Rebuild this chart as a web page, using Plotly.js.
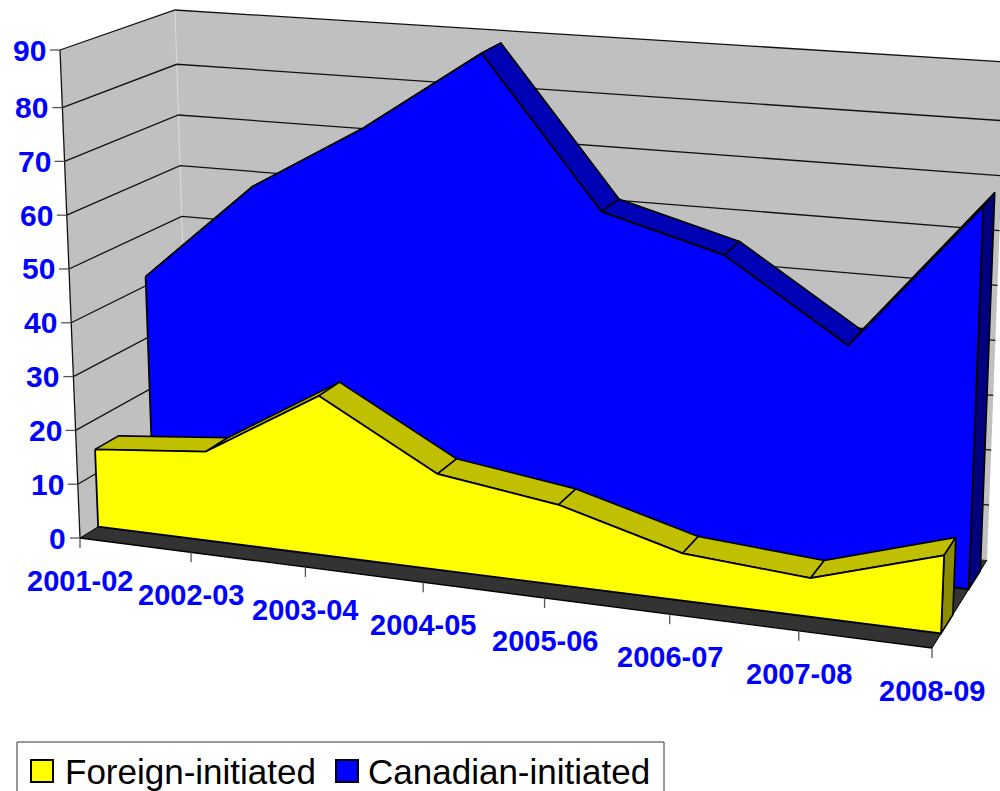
<!DOCTYPE html>
<html><head><meta charset="utf-8">
<script src="https://cdn.plot.ly/plotly-3.0.1.min.js"></script>
<style>html,body{margin:0;padding:0;background:#fff;overflow:hidden}#c{width:1000px;height:791px}</style>
</head><body><div id="c"></div>
<script>
const categories = ["2001-02","2002-03","2003-04","2004-05","2005-06","2006-07","2007-08","2008-09"];
const foreignInitiated = [14.5,16.5,29.2,17.4,14.4,8.4,6.8,13.6];
const canadianInitiated = [41.7,60.8,73.8,89.3,61.6,55.6,41.3,68.4];
const valueTicks = [0,10,20,30,40,50,60,70,80,90];
const valueMax = 90;
const wallTop = 90.7;

// oblique box seen in perspective: floor corners and the vertical vector at each
const FL=[80,538],FR=[932,648],BR=[987,560],BL=[190,466];
const HFL=[-20,-488],HFR=[20,-525],HBR=[19,-498],HBL=[-15,-460];
const foreignDepth=[0.155,0.36], canadianDepth=[0.65,0.87];

const sx=FL[0]-FR[0]+BR[0]-BL[0], sy=FL[1]-FR[1]+BR[1]-BL[1];
const dx1=FR[0]-BR[0], dx2=BL[0]-BR[0], dy1=FR[1]-BR[1], dy2=BL[1]-BR[1];
const den=dx1*dy2-dx2*dy1;
const g=(sx*dy2-dx2*sy)/den, h=(dx1*sy-sx*dy1)/den;
function project(u,w,v){
  const d=g*u+h*w+1;
  const fx=((FR[0]-FL[0]+g*FR[0])*u+(BL[0]-FL[0]+h*BL[0])*w+FL[0])/d;
  const fy=((FR[1]-FL[1]+g*FR[1])*u+(BL[1]-FL[1]+h*BL[1])*w+FL[1])/d+(1-u)*w*4;
  const mix=k=>(1-u)*(1-w)*HFL[k]+u*(1-w)*HFR[k]+u*w*HBR[k]+(1-u)*w*HBL[k];
  return [fx+mix(0)*v/wallTop, fy+mix(1)*v/wallTop];
}
const level=v=>v===valueMax?wallTop:v;
const traces=[];
function poly(pts,fill,line,width,name){
  const t={type:"scatter",mode:"lines",x:pts.map(p=>p[0]),y:pts.map(p=>p[1]),
    line:{color:line||"rgba(0,0,0,0)",width:width||0},hoverinfo:"skip",showlegend:false,name:name||""};
  if(fill){t.fill="toself";t.fillcolor=fill;}
  traces.push(t);
}
function seg(a,b,color,width){poly([a,b],null,color,width);}

// walls and floor
poly([project(0,0,0),project(0,1,0),project(0,1,wallTop),project(0,0,wallTop)],"#c0c0c0");
poly([project(0,1,0),project(1,1,0),project(1,1,wallTop),project(0,1,wallTop)],"#c0c0c0");
seg(project(0,1,0),project(0,1,wallTop),"#d9d9d9",1);
valueTicks.forEach(v=>{
  if(v>0) poly([project(0,0,level(v)),project(0,1,level(v)),project(1,1,level(v))],null,"#111",1.3);
});
seg(project(0,0,0),project(0,0,wallTop),"#111",1.3);
poly([project(0,0,0),project(1,0,0),project(1,1,0),project(0,1,0)],"#333333");
seg(project(0,0,0),project(1,0,0),"#000",1.3);
seg(project(0,0,0),project(0,1,0),"#000",1);
seg(project(1,0,0),project(1,1,0),"#000",1);
// axis ticks
valueTicks.forEach(v=>{const p=project(0,0,level(v));seg([p[0]-10,p[1]],p,"#555",1.3);});
categories.forEach((c,i)=>{const p=project(i/(categories.length-1),0,0);seg(p,[p[0],p[1]+10],"#555",1.3);});

function ribbon(vals,depth,topCol,sideCol,frontCol,name){
  const n=vals.length, [w0,w1]=depth, U=i=>i/(n-1);
  for(let i=0;i<n-1;i++)
    poly([project(U(i),w0,vals[i]),project(U(i+1),w0,vals[i+1]),project(U(i+1),w1,vals[i+1]),project(U(i),w1,vals[i]),project(U(i),w0,vals[i])],topCol,"#000",1.6);
  poly([project(1,w0,vals[n-1]),project(1,w1,vals[n-1]),project(1,w1,0),project(1,w0,0),project(1,w0,vals[n-1])],sideCol,"#000",1.6);
  const front=vals.map((v,i)=>project(U(i),w0,v));
  front.push(project(1,w0,0),project(0,w0,0),front[0]);
  poly(front,frontCol,"#000",1.8,name);
}
ribbon(canadianInitiated,canadianDepth,"#0000b4","#000080","#0000ff","Canadian-initiated");
ribbon(foreignInitiated,foreignDepth,"#c0c000","#8c8c00","#ffff00","Foreign-initiated");

const family="'Liberation Sans',Arial,sans-serif";
const annotations=[];
valueTicks.forEach(v=>{const p=project(0,0,level(v));
  annotations.push({x:p[0],y:p[1],xref:"x",yref:"y",text:"<b>"+v+"</b>",showarrow:false,xanchor:"right",yanchor:"middle",xshift:-12,font:{family,size:30,color:"#0000ff"}});});
categories.forEach((c,i)=>{const p=project(i/(categories.length-1),0,0);
  annotations.push({x:p[0],y:p[1],xref:"x",yref:"y",text:"<b>"+c+"</b>",showarrow:false,xanchor:"center",yanchor:"middle",yshift:-43,font:{family,size:29,color:"#0000ff"}});});
const legFont={family,size:35,color:"#000"};
annotations.push({x:63,y:771,xref:"x",yref:"y",text:"Foreign-initiated",showarrow:false,xanchor:"left",yanchor:"middle",font:legFont});
annotations.push({x:366,y:771,xref:"x",yref:"y",text:"Canadian-initiated",showarrow:false,xanchor:"left",yanchor:"middle",font:legFont});
const shapes=[
 {type:"rect",xref:"x",yref:"y",x0:17,x1:664,y0:742,y1:800,line:{color:"#333",width:1},fillcolor:"#fff"},
 {type:"rect",xref:"x",yref:"y",x0:31,x1:53,y0:760,y1:782,line:{color:"#000",width:2},fillcolor:"#ffff00"},
 {type:"rect",xref:"x",yref:"y",x0:336,x1:358,y0:760,y1:782,line:{color:"#000",width:2},fillcolor:"#0000ff"}
];
Plotly.newPlot("c",traces,{
  width:1000,height:791,margin:{l:0,r:0,t:0,b:0},paper_bgcolor:"#fff",plot_bgcolor:"#fff",showlegend:false,
  xaxis:{range:[0,1000],visible:false,fixedrange:true},
  yaxis:{range:[791,0],visible:false,fixedrange:true},
  annotations,shapes
},{displayModeBar:false,staticPlot:true});
</script></body></html>
